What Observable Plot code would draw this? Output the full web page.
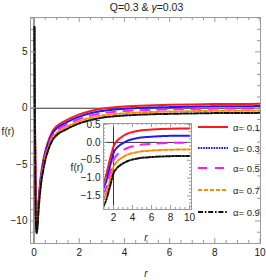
<!DOCTYPE html>
<html><head><meta charset="utf-8">
<script src="https://cdn.jsdelivr.net/npm/d3@7"></script>
<script src="https://cdn.jsdelivr.net/npm/@observablehq/plot@0.6"></script>
<style>
body{margin:0;background:#fff;}
#wrap{position:relative;width:266px;height:280px;overflow:hidden;font-family:"Liberation Sans Narrow","Liberation Sans",Arial,sans-serif;color:#222;}
.lbl{position:absolute;font-size:10px;line-height:11px;white-space:nowrap;transform:translate(-50%,-50%);}
.leg{position:absolute;left:197px;height:12px;display:flex;align-items:center;font-size:9.5px;}
.leg svg{margin-right:4px;}
#main,#inset{position:absolute;}
</style></head><body><div id="wrap"><div id="main"></div><div id="inset"></div></div><script>
// ---- data ----
const titleText = "Q=0.3 & γ=0.03";
const alphas = ["0.1", "0.3", "0.5", "0.7", "0.9"];
// main plot
const rMain = [0.015, 0.03, 0.05, 0.07, 0.09, 0.11, 0.14, 0.2, 0.3, 0.4, 0.5, 0.6, 0.8, 1.0, 1.4, 2, 3, 4, 5, 6, 7, 8, 9, 10];
const fMainA1 = [7.2, 3.0, -3.0, -7.5, -9.8, -10.3, -10.0, -8.2, -6.0, -4.7, -3.8, -3.1, -2.1, -1.6, -1.1, -0.55, -0.05, 0.15, 0.25, 0.3, 0.34, 0.37, 0.38, 0.39];
const fMainA3 = [7.2, 3.0, -3.2, -7.7, -10.0, -10.5, -10.3, -8.5, -6.3, -5.0, -4.0, -3.3, -2.3, -1.8, -1.3, -0.75, -0.25, -0.05, 0.05, 0.1, 0.14, 0.17, 0.18, 0.19];
const fMainA5 = [7.2, 2.9, -3.4, -7.9, -10.2, -10.7, -10.5, -8.7, -6.5, -5.2, -4.2, -3.5, -2.5, -2.0, -1.5, -0.95, -0.45, -0.25, -0.15, -0.1, -0.06, -0.03, -0.02, -0.01];
const fMainA7 = [7.2, 2.8, -3.6, -8.1, -10.4, -10.9, -10.7, -8.9, -6.7, -5.4, -4.4, -3.7, -2.7, -2.2, -1.7, -1.15, -0.65, -0.45, -0.35, -0.3, -0.26, -0.23, -0.22, -0.21];
const fMainA9 = [7.2, 2.7, -3.8, -8.3, -10.6, -11.1, -10.9, -9.1, -6.9, -5.6, -4.6, -3.9, -2.9, -2.4, -1.9, -1.35, -0.85, -0.65, -0.55, -0.5, -0.46, -0.43, -0.42, -0.41];
// inset
const rInset = [0.95, 1.1, 1.25, 1.4, 1.6, 1.8, 2.0, 2.3, 2.6, 3.0, 3.5, 4, 5, 6, 7, 8, 9, 10];
const fInsetA1 = [-1.12, -1.02, -0.9, -0.72, -0.5, -0.3, -0.12, 0.02, 0.1, 0.18, 0.25, 0.29, 0.34, 0.36, 0.375, 0.385, 0.39, 0.39];
const fInsetA3 = [-1.28, -1.18, -1.08, -0.92, -0.7, -0.5, -0.3, -0.17, -0.09, -0.02, 0.05, 0.09, 0.14, 0.16, 0.175, 0.185, 0.19, 0.19];
const fInsetA5 = [-1.45, -1.36, -1.26, -1.1, -0.9, -0.7, -0.5, -0.37, -0.29, -0.22, -0.15, -0.11, -0.06, -0.04, -0.025, -0.015, -0.01, -0.01];
const fInsetA7 = [-1.6, -1.52, -1.42, -1.28, -1.09, -0.88, -0.69, -0.56, -0.48, -0.41, -0.34, -0.3, -0.25, -0.23, -0.215, -0.205, -0.2, -0.2];
const fInsetA9 = [-1.78, -1.7, -1.6, -1.46, -1.27, -1.06, -0.87, -0.74, -0.66, -0.59, -0.52, -0.48, -0.43, -0.41, -0.395, -0.385, -0.38, -0.38];
// ticks
const xMainMajor = [0, 2, 4, 6, 8, 10];
const xMainMinor = [0.5, 1, 1.5, 2.5, 3, 3.5, 4.5, 5, 5.5, 6.5, 7, 7.5, 8.5, 9, 9.5];
const yMainMajor = [-10, -5, 0, 5];
const yMainMinor = [-12, -11, -9, -8, -7, -6, -4, -3, -2, -1, 1, 2, 3, 4, 6, 7, 8];
const xInsetMajor = [2, 4, 6, 8, 10];
const xInsetMinor = [1, 1.5, 2.5, 3, 3.5, 4.5, 5, 5.5, 6.5, 7, 7.5, 8.5, 9, 9.5];
const yInsetMajor = [-1.5, -1.0, -0.5, 0.0, 0.5];
const yInsetMinor = [-1.8, -1.7, -1.6, -1.4, -1.3, -1.2, -1.1, -0.9, -0.8, -0.7, -0.6, -0.4, -0.3, -0.2, -0.1, 0.1, 0.2, 0.3, 0.4];

// ---- styles ----
const styles = [
  {stroke: "#ff1a1a", dash: null},
  {stroke: "#1a1aff", dash: "1.6,1"},
  {stroke: "#ff1aff", dash: "9,8"},
  {stroke: "#ff8a00", dash: "4,2"},
  {stroke: "#111111", dash: "5,1.8,1.6,1.8"}
];
const mainSeries = [fMainA1, fMainA3, fMainA5, fMainA7, fMainA9];
const insetSeries = [fInsetA1, fInsetA3, fInsetA5, fInsetA7, fInsetA9];
const FONT = '"Liberation Sans Narrow","Liberation Sans",Arial,sans-serif';
const frameCol = "#9a9a9a";

function lines(rs, series) {
  return series.map((vals, k) => Plot.line(rs.map((r, i) => ({r, f: vals[i]})), {
    x: "r", y: "f", stroke: styles[k].stroke, strokeWidth: 2, strokeDasharray: styles[k].dash,
    curve: "monotone-x", clip: true
  }));
}
function frameTicks(xDom, yDom, xMaj, xMin, yMaj, yMin, lMaj, lMin) {
  const m = [];
  const tx = (vals, len) => [
    Plot.ruleX(vals, {x: d => d, y1: () => yDom[0], y2: () => yDom[0], insetTop: -len, stroke: frameCol}),
    Plot.ruleX(vals, {x: d => d, y1: () => yDom[1], y2: () => yDom[1], insetBottom: -len, stroke: frameCol})
  ];
  const ty = (vals, len) => [
    Plot.ruleY(vals, {y: d => d, x1: () => xDom[0], x2: () => xDom[0], insetRight: -len, stroke: frameCol}),
    Plot.ruleY(vals, {y: d => d, x1: () => xDom[1], x2: () => xDom[1], insetLeft: -len, stroke: frameCol})
  ];
  return [...tx(xMaj, lMaj), ...tx(xMin, lMin), ...ty(yMaj, lMaj), ...ty(yMin, lMin)];
}

// ---- main plot ----
const xDomMain = [-0.155, 10.02];
const yDomMain = [-12, 8.05];
const main = Plot.plot({
  width: 266, height: 280,
  marginLeft: 30, marginRight: 6, marginTop: 17, marginBottom: 37,
  x: {domain: xDomMain},
  y: {domain: yDomMain},
  style: {background: "transparent", fontFamily: FONT, fontSize: "10px", color: "#222", overflow: "visible"},
  marks: [
    Plot.ruleY([0], {stroke: "#333", strokeWidth: 1}),
    Plot.ruleX([0], {stroke: "#333", strokeWidth: 1}),
    ...lines(rMain, mainSeries),
    Plot.frame({stroke: frameCol}),
    ...frameTicks(xDomMain, yDomMain, xMainMajor, xMainMinor, yMainMajor, yMainMinor, 5, 3),
    Plot.axisX(xMainMajor, {anchor: "bottom", tickSize: 0, tickPadding: 5, label: null, color: "#222"}),
    Plot.axisY(yMainMajor, {anchor: "left", tickSize: 0, tickPadding: 3, label: null, color: "#222"})
  ]
});
document.getElementById("main").appendChild(main);

// ---- inset ----
const xDomInset = [0.95, 10.2];
const yDomInset = [-1.88, 0.53];
const inset = Plot.plot({
  width: 130, height: 130,
  marginLeft: 40, marginRight: 2, marginTop: 8, marginBottom: 36,
  x: {domain: xDomInset},
  y: {domain: yDomInset},
  style: {background: "transparent", fontFamily: FONT, fontSize: "10px", color: "#222", overflow: "visible"},
  marks: [
    Plot.frame({fill: "white", stroke: "none"}),
    Plot.ruleY([0], {stroke: "#333", strokeWidth: 1}),
    Plot.ruleX([2], {stroke: "#333", strokeWidth: 1}),
    ...lines(rInset, insetSeries),
    Plot.frame({stroke: frameCol}),
    ...frameTicks(xDomInset, yDomInset, xInsetMajor, xInsetMinor, yInsetMajor, yInsetMinor, 4, 2),
    Plot.axisX(xInsetMajor, {anchor: "bottom", tickSize: 0, tickPadding: 4, label: null, color: "#222"}),
    Plot.axisY(yInsetMajor, {anchor: "left", tickSize: 0, tickPadding: 3, label: null, color: "#222", tickFormat: d3.format(".1f")})
  ]
});
const insetDiv = document.getElementById("inset");
insetDiv.style.left = "63px"; insetDiv.style.top = "115px";
insetDiv.appendChild(inset);

// ---- text labels ----
const wrap = document.getElementById("wrap");
function label(html, x, y, extra) {
  const d = document.createElement("div");
  d.className = "lbl"; d.innerHTML = html;
  d.style.left = x + "px"; d.style.top = y + "px";
  if (extra) Object.assign(d.style, extra);
  wrap.appendChild(d);
}
label(titleText.replace("γ", "<i>γ</i>"), 146.5, 7, {fontSize: "10.5px"});
label("f(r)", 8, 131);
label("<i>r</i>", 146, 273);
label("f(r)", 77, 167);
label("<i>r</i>", 146, 237);

// ---- legend ----
const legRows = [127, 148, 168, 190, 212];
alphas.forEach((a, k) => {
  const d = document.createElement("div");
  d.className = "leg";
  d.style.top = (legRows[k] - 6) + "px";
  const s = styles[k];
  d.innerHTML = `<svg width="32" height="6"><line x1="1" y1="3" x2="31" y2="3" stroke="${s.stroke}" stroke-width="2" ${s.dash ? `stroke-dasharray="${s.dash}"` : ""}/></svg><span>α= ${a}</span>`;
  wrap.appendChild(d);
});
</script></body></html>
